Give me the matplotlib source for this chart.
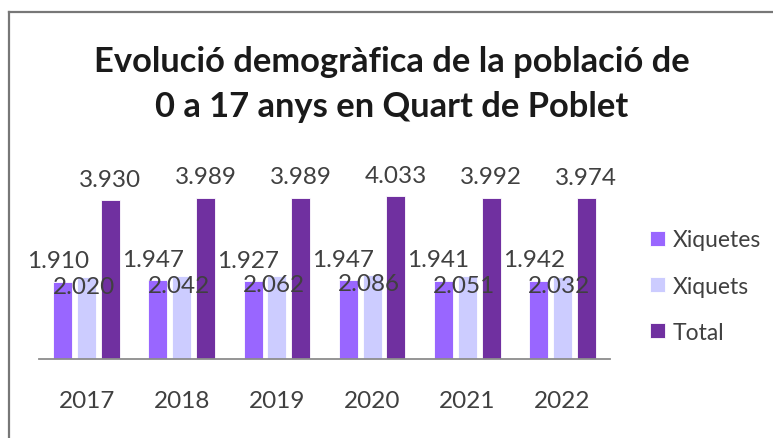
import matplotlib
matplotlib.use("Agg")
import matplotlib.pyplot as plt
from matplotlib.lines import Line2D
import numpy as np

years = ["2017", "2018", "2019", "2020", "2021", "2022"]
xiquetes = [1910, 1947, 1927, 1947, 1941, 1942]
xiquets = [2020, 2042, 2062, 2086, 2051, 2032]
total = [3930, 3989, 3989, 4033, 3992, 3974]

series_names = ["Xiquetes", "Xiquets", "Total"]
colors = ["#9966FF", "#CCCCFF", "#7030A0"]

W, H = 773, 439
fig = plt.figure(figsize=(W / 100, H / 100), dpi=100)
plt.rcParams['font.family'] = ['Lato', 'DejaVu Sans']

ax = fig.add_axes([39 / W, 1 - 360 / H, 571 / W, 194 / H])
x = np.arange(len(years))
bw = 0.2
offs = [-0.25, 0.0, 0.25]
txt_col = "#404040"
fs = 17.5

# label offsets in points (dx, dy) relative to bar top
lab_off = [(-3.6, 15), (-2.2, -6.5), (0, 15)]

for vals, off, c, name, lo in zip([xiquetes, xiquets, total], offs, colors, series_names, lab_off):
    bars = ax.bar(x + off, vals, bw, color=c, edgecolor="white", linewidth=0.6, label=name, zorder=2)
    for b, v in zip(bars, vals):
        s = f"{v:,}".replace(",", ".")
        ax.annotate(s, (b.get_x() + b.get_width() / 2, v), xytext=lo, textcoords="offset points",
                    ha="center", va="center", fontsize=fs, color=txt_col, zorder=5)

ax.set_xlim(-0.5, len(years) - 0.5)
ax.set_ylim(0, 4800)
ax.set_yticks([])
ax.set_xticks(x)
ax.set_xticklabels(years, fontsize=fs, color=txt_col)
ax.tick_params(axis="x", length=0, pad=22)
for sp in ["top", "right", "left"]:
    ax.spines[sp].set_visible(False)
ax.spines["bottom"].set_color("#8c8c8c")
ax.spines["bottom"].set_linewidth(1.3)

fig.legend(loc="center left", bbox_to_anchor=(650 / W, 1 - 287 / H), frameon=False,
           fontsize=16.5, handlelength=0.65, handleheight=0.65, handletextpad=0.35,
           labelspacing=1.1, borderpad=0, borderaxespad=0, labelcolor=txt_col)

fig.text(392 / W, 1 - 62 / H, "Evolució demogràfica de la població de", ha="center", va="center",
         fontsize=24.8, fontweight="bold", color="#1a1a1a")
fig.text(392 / W, 1 - 107 / H, "0 a 17 anys en Quart de Poblet", ha="center", va="center",
         fontsize=24.8, fontweight="bold", color="#1a1a1a")

# outer border (left and top edges visible)
fig.add_artist(Line2D([9 / W, 9 / W], [0, 1 - 13 / H], transform=fig.transFigure, color="#777777", lw=1.6))
fig.add_artist(Line2D([9 / W, 1], [1 - 13 / H, 1 - 13 / H], transform=fig.transFigure, color="#777777", lw=1.6))

fig.savefig("out.png", dpi=100)
